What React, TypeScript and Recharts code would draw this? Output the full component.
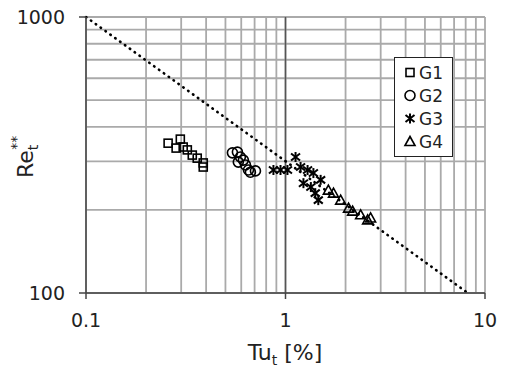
import React from 'react';
import {
  ScatterChart,
  Scatter,
  XAxis,
  YAxis,
  CartesianGrid,
  ReferenceLine,
  Legend,
} from 'recharts';

// Tu_t [%] vs Re_t**
const g1 = [
  { x: 0.258, y: 349 },
  { x: 0.297, y: 361 },
  { x: 0.283, y: 335 },
  { x: 0.307, y: 338 },
  { x: 0.322, y: 330 },
  { x: 0.341, y: 316 },
  { x: 0.361, y: 308 },
  { x: 0.387, y: 296 },
  { x: 0.387, y: 286 },
];
const g2 = [
  { x: 0.542, y: 322 },
  { x: 0.574, y: 324 },
  { x: 0.594, y: 311 },
  { x: 0.58, y: 298 },
  { x: 0.615, y: 303 },
  { x: 0.63, y: 291 },
  { x: 0.652, y: 279 },
  { x: 0.667, y: 274 },
  { x: 0.707, y: 277 },
];
const g3 = [
  { x: 0.87, y: 279 },
  { x: 0.944, y: 279 },
  { x: 1.023, y: 279 },
  { x: 1.123, y: 311 },
  { x: 1.19, y: 286 },
  { x: 1.29, y: 279 },
  { x: 1.38, y: 272 },
  { x: 1.23, y: 250 },
  { x: 1.34, y: 242 },
  { x: 1.41, y: 230 },
  { x: 1.46, y: 217 },
  { x: 1.5, y: 257 },
];
const g4 = [
  { x: 1.64, y: 236 },
  { x: 1.74, y: 230 },
  { x: 1.89, y: 217 },
  { x: 2.07, y: 203 },
  { x: 2.17, y: 198 },
  { x: 2.38, y: 192 },
  { x: 2.58, y: 184 },
  { x: 2.67, y: 187 },
];
const trendLine = [
  { x: 0.1, y: 1000 },
  { x: 8.2, y: 100 },
];
const xTicks = [0.1, 0.2, 0.3, 0.4, 0.5, 0.6, 0.7, 0.8, 0.9, 1, 2, 3, 4, 5, 6, 7, 8, 9, 10];
const yTicks = [100, 200, 300, 400, 500, 600, 700, 800, 900, 1000];
const majorX = [0.1, 1, 10];
const majorY = [100, 1000];
const groups = ['G1', 'G2', 'G3', 'G4'];

const FONT = '"DejaVu Sans", Verdana, sans-serif';

const Marker = ({ kind, cx, cy }: { kind: string; cx: number; cy: number }) => {
  const p = { fill: 'none', stroke: '#000', strokeWidth: 1.6 };
  if (kind === 'G1') return <rect x={cx - 4} y={cy - 4} width={8} height={8} {...p} />;
  if (kind === 'G2') return <circle cx={cx} cy={cy} r={5} {...p} />;
  if (kind === 'G3')
    return (
      <g stroke="#000" strokeWidth={2}>
        <line x1={cx} y1={cy - 5} x2={cx} y2={cy + 5} />
        <line x1={cx - 4.5} y1={cy - 3.5} x2={cx + 4.5} y2={cy + 3.5} />
        <line x1={cx - 4.5} y1={cy + 3.5} x2={cx + 4.5} y2={cy - 3.5} />
      </g>
    );
  return <path d={`M${cx},${cy - 5}L${cx + 5},${cy + 4}L${cx - 5},${cy + 4}Z`} {...p} />;
};

const shapeFor = (kind: string) => (props: any) => <Marker kind={kind} cx={props.cx} cy={props.cy} />;

const XTick = (props: any) => {
  const { x, y, payload } = props;
  if (!majorX.includes(payload.value)) return <g />;
  return (
    <g>
      <line x1={x} y1={y} x2={x} y2={y + 6} stroke="#444" strokeWidth={1.5} />
      <text x={x} y={y + 34} textAnchor="middle" fontFamily={FONT} fontSize={19} fill="#222">
        {payload.value}
      </text>
    </g>
  );
};

const YTick = (props: any) => {
  const { x, y, payload } = props;
  if (!majorY.includes(payload.value)) return <g />;
  return (
    <g>
      <line x1={x - 7} y1={y} x2={x} y2={y} stroke="#444" strokeWidth={1.5} />
      <text x={x - 21} y={y + 7} textAnchor="end" fontFamily={FONT} fontSize={19} fill="#222">
        {payload.value}
      </text>
    </g>
  );
};

const XTitle = () => (
  <text x={285} y={360} textAnchor="middle" fontFamily={FONT} fontSize={22} fill="#222">
    Tu
    <tspan fontSize={14} dy={5}>t</tspan>
    <tspan dy={-5}> [%]</tspan>
  </text>
);

const YTitle = () => (
  <text
    x={0}
    y={0}
    transform="translate(33,178) rotate(-90)"
    fontFamily={FONT}
    fontSize={22}
    fill="#222"
  >
    Re
    <tspan fontSize={14} dy={5}>t</tspan>
    <tspan fontSize={14} dx={-5} dy={-17}>**</tspan>
  </text>
);

const LegendBox = () => (
  <div
    style={{
      border: '1.5px solid #222',
      background: '#fff',
      padding: '3px 0',
      width: 57,
      fontFamily: FONT,
      fontSize: 17,
      color: '#222',
    }}
  >
    {groups.map((g) => (
      <div key={g} style={{ height: 23, display: 'flex', alignItems: 'center' }}>
        <svg width={22} height={23}>
          <Marker kind={g} cx={15} cy={11.5} />
        </svg>
        <span style={{ marginLeft: 2 }}>{g}</span>
      </div>
    ))}
  </div>
);

export default function App() {
  return (
    <div style={{ position: 'absolute', left: 0, top: 0 }}>
      <ScatterChart width={507} height={367} margin={{ top: 17, right: 22, bottom: 24, left: 26 }}>
        <CartesianGrid stroke="#aaa" strokeWidth={1.8} />
        <XAxis
          type="number"
          dataKey="x"
          scale="log"
          domain={[0.1, 10]}
          ticks={xTicks}
          interval={0}
          allowDataOverflow
          height={50}
          tickSize={0}
          tickMargin={0}
          tick={<XTick />}
          axisLine={{ stroke: '#444', strokeWidth: 1.5 }}
          label={<XTitle />}
        />
        <YAxis
          type="number"
          dataKey="y"
          scale="log"
          domain={[100, 1000]}
          ticks={yTicks}
          interval={0}
          allowDataOverflow
          width={60}
          tickSize={0}
          tickMargin={0}
          tick={<YTick />}
          axisLine={{ stroke: '#444', strokeWidth: 1.5 }}
          label={<YTitle />}
        />
        <ReferenceLine x={1} stroke="#555" strokeWidth={1.5} />
        <ReferenceLine
          segment={trendLine}
          stroke="#000"
          strokeWidth={2.6}
          strokeDasharray="0.5 5.5"
          strokeLinecap="round"
        />
        <Legend
          content={<LegendBox />}
          layout="horizontal"
          verticalAlign="middle"
          align="center"
          wrapperStyle={{ left: 394, top: 57, width: 60 }}
        />
        <Scatter name="G1" data={g1} shape={shapeFor('G1')} isAnimationActive={false} />
        <Scatter name="G2" data={g2} shape={shapeFor('G2')} isAnimationActive={false} />
        <Scatter name="G3" data={g3} shape={shapeFor('G3')} isAnimationActive={false} />
        <Scatter name="G4" data={g4} shape={shapeFor('G4')} isAnimationActive={false} />
      </ScatterChart>
    </div>
  );
}
